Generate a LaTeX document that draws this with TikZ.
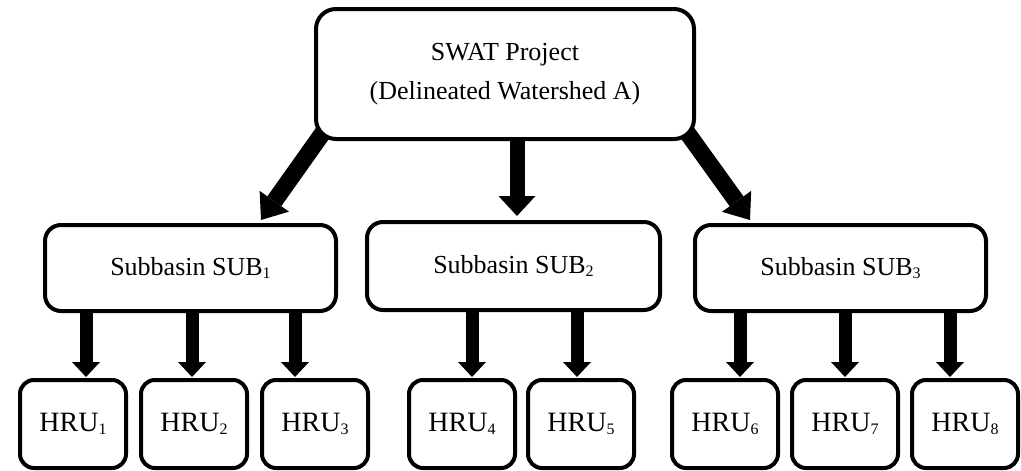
\documentclass[tikz,border=0pt]{standalone}
\usepackage{fontspec}
\setmainfont{Liberation Serif}
\usetikzlibrary{arrows.meta,backgrounds}
\pgfdeclarelayer{canvas}
\pgfsetlayers{canvas,background,main}
\newcommand{\sbs}[1]{\raisebox{-2.5pt}{\fontsize{16}{16}\selectfont #1}}
\tikzset{
  box/.style={draw, line width=4pt, fill=white, inner sep=0pt, align=center,
    font=\fontsize{26}{39.5}\selectfont},
  topbox/.style={box, rounded corners=20pt, minimum width=378pt, minimum height=130pt},
  subbox/.style={box, rounded corners=16pt, minimum width=291pt, minimum height=86pt},
  hrubox/.style={box, rounded corners=14pt, minimum width=106pt, minimum height=88pt,
    font=\fontsize{28}{30}\selectfont},
  smallarr/.style={line width=13pt, -{Triangle[width=28pt,length=15pt,line width=0pt]}},
  bigarr/.style={line width=15pt, -{Triangle[width=37pt,length=20pt,line width=0pt]}},
  diagarr/.style={line width=17pt, -{Triangle[width=36pt,length=23pt,line width=0pt]}},
}
\begin{document}
\begin{tikzpicture}[x=1pt,y=-1pt]
\useasboundingbox (0,0) rectangle (1021,471);
\begin{pgfonlayer}{canvas}
\fill[white] (0,0) rectangle (1021,471);
\end{pgfonlayer}

\node[topbox] (top) at (505,74) {SWAT Project\\(Delineated Watershed A)};

\node[subbox] (sub1) at (190.5,268) {Subbasin SUB\sbs{1}};
\node[subbox, minimum width=293pt, minimum height=88pt] (sub2) at (513.5,266) {Subbasin SUB\sbs{2}};
\node[subbox] (sub3) at (840.5,268) {Subbasin SUB\sbs{3}};

\node[hrubox] (h1) at (73,424) {HRU\sbs{1}};
\node[hrubox] (h2) at (194,424) {HRU\sbs{2}};
\node[hrubox] (h3) at (315,424) {HRU\sbs{3}};
\node[hrubox] (h4) at (462,424) {HRU\sbs{4}};
\node[hrubox] (h5) at (581,424) {HRU\sbs{5}};
\node[hrubox] (h6) at (725,424) {HRU\sbs{6}};
\node[hrubox] (h7) at (845,424) {HRU\sbs{7}};
\node[hrubox] (h8) at (965,424) {HRU\sbs{8}};

\begin{pgfonlayer}{background}
  % top to subbasins
  \draw[diagarr] ([xshift=11.7pt,yshift=12.2pt]top.south west) -- ([xshift=70.5pt,yshift=3pt]sub1.north);
  \draw[bigarr] ([xshift=12pt,yshift=4pt]top.south) -- ([xshift=3.5pt,yshift=4pt]sub2.north);
  \draw[diagarr] ([xshift=-10pt,yshift=10pt]top.south east) -- ([xshift=-90.5pt,yshift=3pt]sub3.north);
  % subbasin 1
  \draw[smallarr] ([yshift=4pt]sub1.south -| 86,0) -- ([yshift=1pt]h1.north -| 86,0);
  \draw[smallarr] ([yshift=4pt]sub1.south -| 192,0) -- ([yshift=1pt]h2.north -| 192,0);
  \draw[smallarr] ([yshift=4pt]sub1.south -| 295,0) -- ([yshift=1pt]h3.north -| 295,0);
  % subbasin 2
  \draw[smallarr] ([yshift=4pt]sub2.south -| 472,0) -- ([yshift=1pt]h4.north -| 472,0);
  \draw[smallarr] ([yshift=4pt]sub2.south -| 577,0) -- ([yshift=1pt]h5.north -| 577,0);
  % subbasin 3
  \draw[smallarr] ([yshift=4pt]sub3.south -| 740,0) -- ([yshift=1pt]h6.north -| 740,0);
  \draw[smallarr] ([yshift=4pt]sub3.south -| 845,0) -- ([yshift=1pt]h7.north -| 845,0);
  \draw[smallarr] ([yshift=4pt]sub3.south -| 950,0) -- ([yshift=1pt]h8.north -| 950,0);
\end{pgfonlayer}
\end{tikzpicture}
\end{document}
